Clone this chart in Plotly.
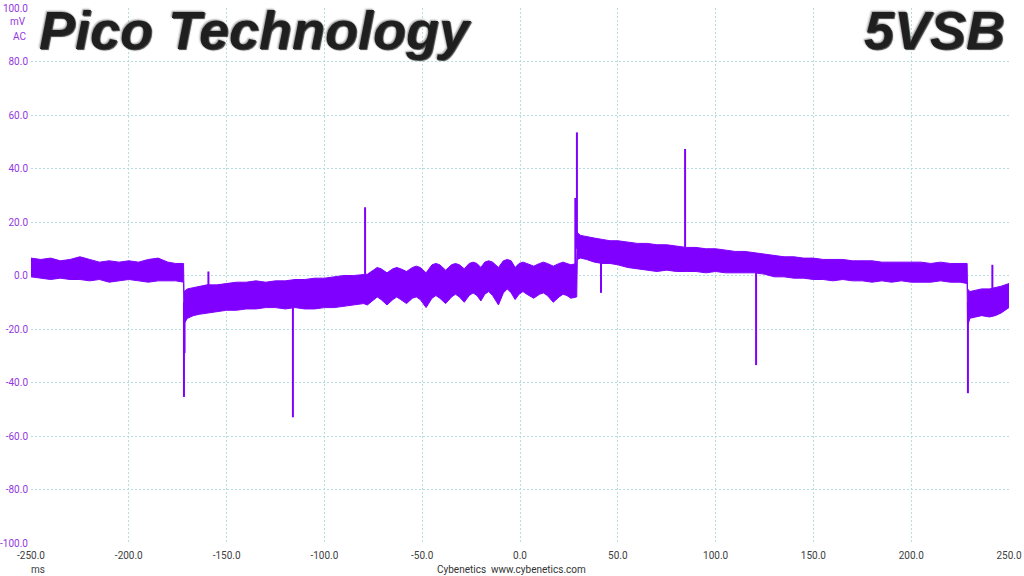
import plotly.graph_objects as go

# ---------------- data ----------------
# Envelope of the noisy 5VSB ripple trace (mV) vs time (ms)
env_x = [
    # segment A
    -250, -245, -240, -235, -230, -225, -220, -215, -210, -205, -200, -195, -190, -185, -180, -176, -172.0,
    # segment B
    -171.8, -170, -167, -164, -160, -155, -150, -145, -140, -135, -130, -125, -120, -115, -110, -105, -100,
    -95, -90, -85, -80,
    -78, -75, -73, -71, -68, -65, -63, -61, -58, -55, -53, -51, -48, -45, -43, -41, -38, -35, -33, -31,
    -28.5, -26, -24, -22, -20, -18, -16, -14, -11, -8.5, -6.5, -4.5, -2.5, -0.5, 1.5, 3.5, 7, 10, 12, 14,
    17, 20, 22, 24, 26, 29.0,
    # segment C
    29.3, 31, 34, 38, 42, 46, 50, 55, 60, 65, 70, 75, 80, 85, 90, 95, 100, 105, 110, 115, 120, 125, 130,
    135, 140, 145, 150, 155, 160, 165, 170, 175, 180, 185, 190, 195, 200, 205, 210, 215, 220, 225, 228.6,
    # segment D
    228.8, 230, 233, 236, 240, 243, 246, 250,
]
env_upper = [
    6.5, 6, 6.5, 5.5, 6, 7, 6, 5, 5.5, 5, 5.5, 5, 6, 6.5, 5, 4.5, 4.5,
    -6, -5, -4.5, -4, -3.5, -3.5, -3, -2.5, -2.5, -2, -2.5, -2, -2, -1.5, -1.5, -1, -1,
    -0.5, 0, 0, 0.5,
    0.5, 2, 3, 2.5, 1, 2.5, 3, 2.5, 1.5, 3, 3.5, 3, 1, 4, 4.5, 4, 2, 4, 4.5, 4,
    2.5, 4.5, 5, 4.5, 3, 5, 5.5, 5, 3, 5.5, 6, 5.5, 3, 4.5, 5, 4.5, 3.5, 4.5, 5, 4.5,
    3.5, 4.5, 5, 4.5, 4, 4.5,
    16, 15, 14.5, 14, 13.5, 13, 13, 12.5, 12, 12, 11.5, 11.5, 11, 10.5, 10.5, 10, 10, 9.5, 9, 9, 8.5, 8, 7.5,
    7, 7, 6.5, 6.5, 6, 6, 6, 5.5, 5.5, 5.5, 5, 5, 5, 5, 5, 4.5, 5, 4.5, 4.5, 4.5,
    -5, -6, -5.5, -5, -5, -4.5, -4, -3,
]
env_lower = [
    -0.5, -1, -1.5, -1, -1.5, -1.5, -2, -1.5, -2.5, -2, -1.5, -2, -2.5, -2, -2, -2, -2.5,
    -18, -16, -15, -14.5, -14, -13.5, -13, -13, -12.5, -12.5, -12, -12, -12.5, -12, -12.5, -12.5, -12,
    -12, -11.5, -11, -10.5,
    -11, -9, -8, -9, -11, -9, -8, -9, -10.5, -8.5, -8, -9, -12, -8.5, -7.5, -8.5, -10.5, -8, -7, -8,
    -10, -7.5, -6.5, -7.5, -9.5, -7, -6, -7.5, -11, -6.5, -5, -6.5, -9, -7, -6, -7, -8.5, -7, -6.5, -7.5,
    -10, -8, -7, -7.5, -8.5, -8,
    6, 6.5, 6, 5, 4.5, 4.5, 4, 3, 2.5, 2, 1.5, 2, 1.5, 1.5, 1.5, 1, 1.5, 1, 1, 1, 1, 0.5, -0.5,
    -0.5, -1, -1, -1.5, -1.5, -2, -1.5, -2, -2, -2.5, -2, -2.5, -2, -2.5, -2.5, -2.5, -2, -2.5, -2.5, -3,
    -19, -16, -15.5, -15, -15.5, -15, -14, -12,
]

# Transient spikes: time (ms), start level, peak level (mV)
spike_x = [-171.8, -171.5, -159.3, -116.1, -79.2, 28.3, 29.1, 41.4, 84.4, 120.7, 229.0, 241.5]
spike_base = [-10, -10, -5, -10, -2, 0, 10, 5, 8, 2, -10, -6]
spike_peak = [-45.4, -29, 1.5, -53, 25.5, 29, 53.5, -6.5, 47.3, -33.5, -44, 4]

x_tick_vals = [-250, -200, -150, -100, -50, 0, 50, 100, 150, 200, 250]
x_tick_labels = ["-250.0", "-200.0", "-150.0", "-100.0", "-50.0", "0.0", "50.0", "100.0", "150.0", "200.0", "250.0"]
y_tick_vals = [-100, -80, -60, -40, -20, 0, 20, 40, 60, 80, 100]
y_tick_labels = ["-100.0", "-80.0", "-60.0", "-40.0", "-20.0", "0.0", "20.0", "40.0", "60.0", "80.0", "100.0"]

title_left = "Pico Technology"
title_right = "5VSB"
unit_label = "mV"
coupling_label = "AC"
x_unit_label = "ms"
credit_label = "Cybenetics  www.cybenetics.com"

# ---------------- figure ----------------
TRACE = "#7f00ff"
LABEL_PURPLE = "#9237e0"
GRID = "#b4dde0"

fig = go.Figure()

fig.add_trace(go.Scatter(x=env_x, y=env_lower, mode="lines",
                         line=dict(color=TRACE, width=1), hoverinfo="skip", showlegend=False))
fig.add_trace(go.Scatter(x=env_x, y=env_upper, mode="lines", fill="tonexty",
                         fillcolor=TRACE, line=dict(color=TRACE, width=1),
                         hoverinfo="skip", showlegend=False))

sx, sy = [], []
for x, b, p in zip(spike_x, spike_base, spike_peak):
    sx += [x, x, None]
    sy += [b, p, None]
fig.add_trace(go.Scatter(x=sx, y=sy, mode="lines", line=dict(color=TRACE, width=2),
                         hoverinfo="skip", showlegend=False))

fig.update_layout(
    width=1024, height=576, autosize=False,
    margin=dict(l=31, r=15, t=8, b=33),
    paper_bgcolor="white", plot_bgcolor="white",
    showlegend=False,
    font=dict(family="Roboto", size=10, color="#404040"),
)
fig.update_xaxes(range=[-250, 250], tickmode="array", tickvals=x_tick_vals, ticktext=x_tick_labels,
                 showgrid=True, gridcolor=GRID, griddash="2px,2px", gridwidth=1,
                 zeroline=False, showline=False, ticks="", ticklabelstandoff=5, automargin=False,
                 tickfont=dict(family="Roboto", size=10, color="#404040"))
fig.update_yaxes(range=[-100, 100], tickmode="array", tickvals=y_tick_vals, ticktext=y_tick_labels,
                 showgrid=True, gridcolor=GRID, griddash="2px,2px", gridwidth=1,
                 zeroline=False, showline=False, ticks="", ticklabelstandoff=2, automargin=False,
                 tickfont=dict(family="Roboto", size=10, color=LABEL_PURPLE))

ann = []
# unit labels under the top y tick
ann.append(dict(text=unit_label, xref="paper", x=0, xanchor="right", xshift=-3,
                yref="y", y=94.8, yanchor="middle", showarrow=False,
                font=dict(family="Roboto", size=10, color=LABEL_PURPLE)))
ann.append(dict(text=coupling_label, xref="paper", x=0, xanchor="right", xshift=-3,
                yref="y", y=89.2, yanchor="middle", showarrow=False,
                font=dict(family="Roboto", size=10, color=LABEL_PURPLE)))
ann.append(dict(text=x_unit_label, xref="x", x=-246.4, xanchor="center",
                yref="paper", y=0, yanchor="middle", yshift=-26, showarrow=False,
                font=dict(family="Roboto", size=10, color="#404040")))
ann.append(dict(text=credit_label, xref="x", x=-4.6, xanchor="center",
                yref="paper", y=0, yanchor="middle", yshift=-26, showarrow=False,
                font=dict(family="Roboto", size=10, color="#333333")))

# big titles with a bevel-like shading
for txt, xpos, anchor in [(title_left, 0.006, "left"), (title_right, 0.998, "right")]:
    ann.append(dict(text=txt, xref="paper", x=xpos, xanchor=anchor,
                    yref="paper", y=1, yanchor="top", yshift=10, showarrow=False,
                    font=dict(family="Liberation Sans", size=54, color="#1f1f1f",
                              weight=700, style="italic",
                              shadow="1px 1px 1px #444, -1px -1px 2px #999")))
fig.update_layout(annotations=ann)

fig.write_html(
    "out.html",
    config={"displayModeBar": False},
    post_script="document.body.style.margin='0';document.body.style.padding='0';",
)
